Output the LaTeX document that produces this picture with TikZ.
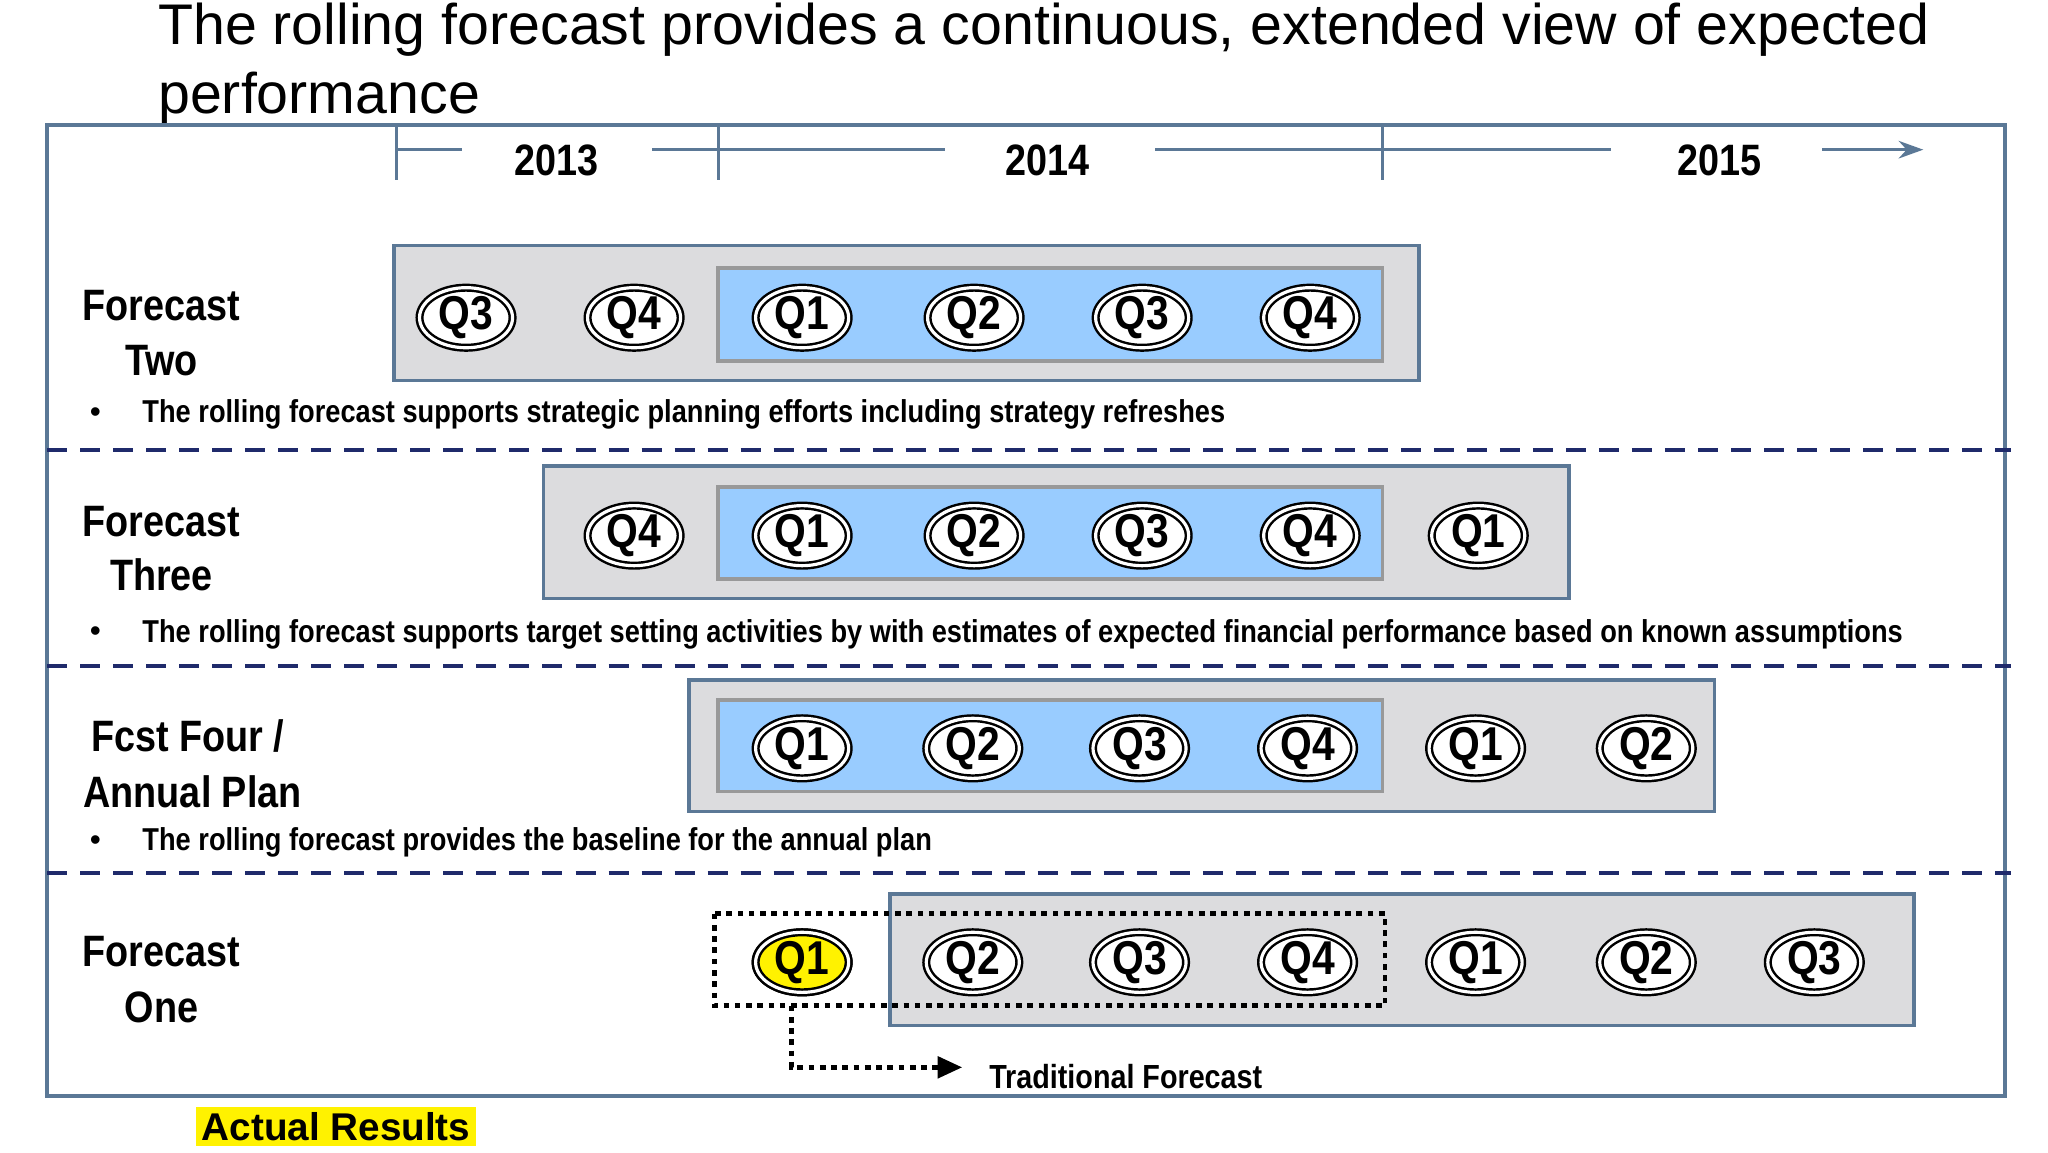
\documentclass[tikz,border=0pt]{standalone}
\usepackage{fontspec}
\setmainfont{Liberation Sans}
\usepackage{graphicx}
\usetikzlibrary{positioning,shapes.geometric,arrows.meta}
\definecolor{frameblue}{HTML}{5B7896}
\definecolor{navy}{HTML}{1F2A6B}
\definecolor{boxgray}{HTML}{DCDCDE}
\definecolor{qblue}{HTML}{99CCFF}
\newcommand{\nb}[1]{\scalebox{0.86}[1]{\bfseries #1}}
\tikzset{
  frame/.style={draw=frameblue, line width=1.1pt},
  graybox/.style={draw=frameblue, line width=1pt, fill=boxgray},
  bluebox/.style={draw=gray!80, line width=1pt, fill=qblue},
  qtr/.style={ellipse, draw, double, double distance=0.9pt, line width=0.7pt, fill=white, minimum width=0.93cm, minimum height=0.58cm, inner sep=0pt, font=\fontsize{13.5}{12}\selectfont},
  rowlab/.style={font=\fontsize{12.5}{14}\selectfont, inner sep=0pt},
  bullet/.style={font=\fontsize{9}{10}\selectfont, anchor=west, inner sep=0pt},
  sep/.style={draw=navy, line width=1.1pt, dash pattern=on 0.2cm off 0.13cm},
  dots/.style={line width=1.4pt, dash pattern=on 1.6pt off 1.6pt},
  yr/.style={font=\fontsize{12.5}{14}\selectfont, inner sep=0pt},
  tl/.style={draw=frameblue, line width=0.9pt}
}
\begin{document}
\begin{tikzpicture}[x=0.01313cm, y=-0.01313cm]
\useasboundingbox (0,0) rectangle (1560,877.5);
% title
\node[anchor=north west, align=left, inner sep=0pt, font=\fontsize{16.3}{19.5}\selectfont] (title) at (120,2)
  {The rolling forecast provides a continuous, extended view of expected\\performance};
\draw[frame] (36,95) rectangle (1527,835);
% timeline
\node[yr] (y13) at (424,122) {\nb{2013}};
\node[yr] (y14) at (798,122) {\nb{2014}};
\node[yr] (y15) at (1310,122) {\nb{2015}};
\coordinate (t0) at (302,114);
\coordinate (t1) at (547,114);
\coordinate (t2) at (1053,114);
\coordinate (tend) at (1465,114);
\foreach \t in {t0,t1,t2}
  \draw[tl] (\t) ++(0,-20) -- ++(0,43);
\draw[tl] (t0) -- (352,114);
\draw[tl] (497,114) -- (t1) -- (720,114);
\draw[tl] (880,114) -- (t2) -- (1227,114);
\draw[tl, -{Stealth[length=7pt,width=5pt]}] (1388,114) -- (tend);
% row: forecast two
\draw[graybox] (300,187) rectangle (1081,290);
\draw[bluebox] (547,204) rectangle (1053,275);
\foreach \x/\q [count=\i] in {355/Q3,483/Q4,611/Q1,742/Q2,870/Q3,998/Q4}
  \node[qtr] (a\i) at (\x,242) {\nb{\raisebox{-5pt}{\q}}};
\node[rowlab] (la1) at (123,233) {\nb{Forecast}};
\node[rowlab] (la2) at (123,275) {\nb{Two}};
\node[bullet] (ba) at (68,316) {\textbullet};
\node[bullet] (ta) at (108,316) {\nb{The rolling forecast supports strategic planning efforts including strategy refreshes}};
\draw[sep] (36,343) -- (1532,343);
% row: forecast three
\draw[graybox] (414,355) rectangle (1195,456);
\draw[bluebox] (547,371) rectangle (1053,441);
\foreach \x/\q [count=\i] in {483/Q4,611/Q1,742/Q2,870/Q3,998/Q4,1126/Q1}
  \node[qtr] (b\i) at (\x,408) {\nb{\raisebox{-5pt}{\q}}};
\node[rowlab] (lb1) at (123,397) {\nb{Forecast}};
\node[rowlab] (lb2) at (123,438) {\nb{Three}};
\node[bullet] (bb) at (68,483) {\textbullet};
\node[bullet] (tb) at (108,483) {\nb{The rolling forecast supports target setting activities by with estimates of expected financial performance based on known assumptions}};
\draw[sep] (36,507) -- (1532,507);
% row: fcst four / annual plan
\draw[graybox] (525,518) rectangle (1306,618);
\draw[bluebox] (547,533) rectangle (1053,603);
\foreach \x/\q [count=\i] in {611/Q1,741/Q2,868/Q3,996/Q4,1124/Q1,1254/Q2}
  \node[qtr] (c\i) at (\x,570) {\nb{\raisebox{-5pt}{\q}}};
\node[rowlab, anchor=west] (lc1) at (69,561) {\nb{Fcst Four /}};
\node[rowlab, anchor=west] (lc2) at (63,603) {\nb{Annual Plan}};
\node[bullet] (bc) at (68,642) {\textbullet};
\node[bullet] (tc) at (108,642) {\nb{The rolling forecast provides the baseline for the annual plan}};
\draw[sep] (36,665) -- (1532,665);
% row: forecast one
\draw[graybox] (678,681) rectangle (1458,781);
\foreach \x/\q [count=\i] in {611/Q1,741/Q2,868/Q3,996/Q4,1124/Q1,1254/Q2,1382/Q3}
  \node[qtr] (d\i) at (\x,733) {\nb{\raisebox{-5pt}{\q}}};
\node[qtr, fill=yellow] at (d1) {\nb{\raisebox{-5pt}{Q1}}};
\node[rowlab] (ld1) at (123,725) {\nb{Forecast}};
\node[rowlab] (ld2) at (123,767) {\nb{One}};
\draw[dots] (544,696) rectangle (1055,766);
\coordinate (dstart) at (603,766);
\coordinate (dend) at (733,813);
\node[anchor=west, inner sep=0pt, font=\fontsize{9.5}{10}\selectfont] (trad) at (753,820) {\nb{Traditional Forecast}};
\draw[dots, -{Triangle[length=7pt,width=6pt]}] (dstart) |- (dend);
% actual results
\node[fill=yellow, inner sep=1.5pt, font=\fontsize{11}{12}\selectfont\bfseries] (actual) at (256,858) {Actual Results};
\end{tikzpicture}
\end{document}
